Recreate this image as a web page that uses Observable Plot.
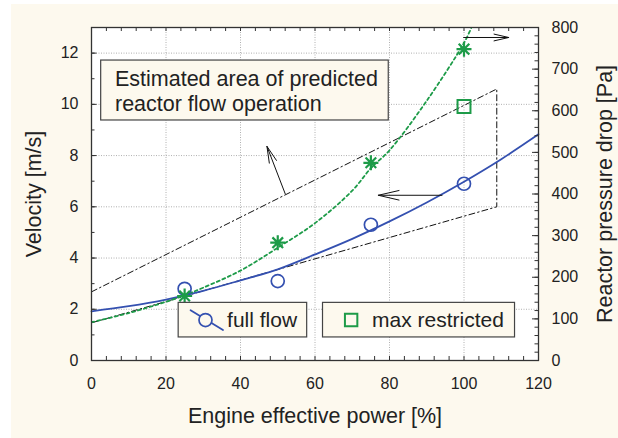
<!DOCTYPE html>
<html><head><meta charset="utf-8">
<script src="https://cdn.jsdelivr.net/npm/d3@7"></script>
<script src="https://cdn.jsdelivr.net/npm/@observablehq/plot@0.6"></script>
<style>
body{margin:0;background:#fff;}
#wrap{position:relative;width:618px;height:438px;}
#bg{position:absolute;left:11px;top:4px;width:607px;height:434px;background:#fdf9ee;}
#chart{position:absolute;left:0;top:0;}
</style></head><body><div id="wrap"><div id="bg"></div><div id="chart"></div></div>
<script>
// ---- data ----
const powerLevels = [25, 50, 75, 100];
const velocityFullFlow = [2.8, 3.1, 5.3, 6.9];          // m/s (circles)
const pressureFullFlowPa = [155, 283, 475, 748];        // Pa (stars)
const maxRestrictedPower = [100];
const maxRestrictedPa = [610];                          // Pa (square)
const velocityFitPower = [0, 10, 20, 30, 40, 50, 60, 70, 80, 90, 100, 110, 120];
const velocityFit = [1.92, 2.12, 2.38, 2.72, 3.13, 3.56, 4.14, 4.75, 5.43, 6.17, 6.98, 7.86, 8.83];
const pressureFitPower = [0, 10, 20, 25, 30, 40, 50, 60, 70, 75, 80, 90, 100, 102];
const pressureFitPa = [92, 114, 141, 157, 175, 216, 271, 330, 408, 462, 505, 624, 763, 800];
const boundaryPower = [0, 108.8, 108.8, 0];
const boundaryVelocity = [2.68, 10.6, 6.0, 1.47];
const arrowX1 = [52.0, 94.1, 99.9];
const arrowY1 = [6.51, 6.45, 12.61];
const arrowX2 = [47.1, 77.0, 112.0];
const arrowY2 = [8.36, 6.45, 12.61];
const noteLines = ["Estimated area of predicted", "reactor flow operation"];
const noteLineX = [6.3, 6.3];
const noteLineY = [10.98, 10.01];
const noteBoxX = [2.6, 79.8];
const noteBoxY = [9.37, 11.71];
const legendLabels = ["full flow", "max restricted"];
const legendBoxX1 = [23.4, 62.15];
const legendBoxX2 = [57.9, 113.7];
const legendBoxY = [0.9, 2.25];
const legendSymbolX = [30.6, 69.7];
const legendTextX = [36.4, 75.3];
const legendY = 1.58;
const legendLineX = [26.6, 35.3];
const legendLineY = [1.96, 1.19];
const xTickLabels = [0, 20, 40, 60, 80, 100, 120];
const yTickLabels = [0, 2, 4, 6, 8, 10, 12];
const paTickLabels = [0, 100, 200, 300, 400, 500, 600, 700, 800];
const xGrid = [20, 40, 60, 80, 100];
const yGrid = [2, 4, 6, 8, 10, 12];
const xTitle = "Engine effective power [%]";
const yTitle = "Velocity [m/s]";
const y2Title = "Reactor pressure drop [Pa]";

// ---- setup ----
const W = 618, H = 438, mL = 91, mR = 80, mT = 27, mB = 78;
const plotW = W - mL - mR, plotH = H - mT - mB;
const paMax = 800, vMax = 13;
const toV = p => p * vMax / paMax;
const BLUE = "#3450b0", GREEN = "#1d9b48", CREAM = "#fdf9ee", INK = "#222";
const FONT = "'Liberation Sans', Arial, Helvetica, sans-serif";

const fullFlow = powerLevels.map((x, i) => ({x, v: velocityFullFlow[i], p: pressureFullFlowPa[i]}));
const maxR = maxRestrictedPower.map((x, i) => ({x, p: maxRestrictedPa[i]}));
const velFit = velocityFitPower.map((x, i) => ({x, v: velocityFit[i]}));
const presFit = pressureFitPower.map((x, i) => ({x, p: pressureFitPa[i]}));
const boundary = boundaryPower.map((x, i) => ({x, v: boundaryVelocity[i]}));
const arrows = arrowX1.map((x1, i) => ({x1, y1: arrowY1[i], x2: arrowX2[i], y2: arrowY2[i]}));
const notes = noteLines.map((t, i) => ({t, x: noteLineX[i], y: noteLineY[i]}));
const legBoxes = legendBoxX1.map((x1, i) => ({x1, x2: legendBoxX2[i], y1: legendBoxY[0], y2: legendBoxY[1]}));
const legTexts = legendLabels.map((t, i) => ({t, x: legendTextX[i], y: legendY}));

const xMinor = d3.range(0, 121, 4);
const yMinor = d3.range(0, 14, 1);
const paMinor = d3.range(0, 801, 20);

const star8 = {
  draw(ctx, size) {
    const r = Math.sqrt(size / Math.PI);
    for (let k = 0; k < 4; k++) {
      const a = k * Math.PI / 4;
      ctx.moveTo(r * Math.cos(a), r * Math.sin(a));
      ctx.lineTo(-r * Math.cos(a), -r * Math.sin(a));
    }
  }
};

const chart = Plot.plot({
  width: W, height: H,
  marginLeft: mL, marginRight: mR, marginTop: mT, marginBottom: mB,
  style: {background: "transparent", fontFamily: FONT, color: INK, fontSize: "16px"},
  x: {domain: [0, 120], label: null},
  y: {domain: [0, vMax], label: null},
  marks: [
    Plot.frame({fill: "white", stroke: null}),
    Plot.ruleX(xGrid, {x: d => d, stroke: "#b0b0b0", strokeDasharray: "1,1.5"}),
    Plot.ruleY(yGrid, {y: d => d, stroke: "#b0b0b0", strokeDasharray: "1,1.5"}),
    Plot.line(boundary, {x: "x", y: "v", stroke: "#111", strokeWidth: 1, strokeDasharray: "6,3,1.5,3"}),
    Plot.line(velFit, {x: "x", y: "v", stroke: BLUE, strokeWidth: 1.8, curve: "catmull-rom"}),
    Plot.line(presFit, {x: "x", y: d => toV(d.p), stroke: GREEN, strokeWidth: 1.8, strokeDasharray: "3,3", curve: "catmull-rom", clip: true}),
    Plot.dot(fullFlow, {x: "x", y: "v", r: 6.5, stroke: BLUE, strokeWidth: 1.7, fill: "none"}),
    Plot.dot(fullFlow, {x: "x", y: d => toV(d.p), r: 7.5, symbol: star8, stroke: GREEN, strokeWidth: 2.2}),
    Plot.dot(maxR, {x: "x", y: d => toV(d.p), r: 7.3, symbol: "square", stroke: GREEN, strokeWidth: 2, fill: "none"}),
    Plot.arrow(arrows, {x1: "x1", y1: "y1", x2: "x2", y2: "y2", stroke: "#111", strokeWidth: 1, headAngle: 26, headLength: 36}),
    Plot.rect([0], {x1: () => noteBoxX[0], x2: () => noteBoxX[1], y1: () => noteBoxY[0], y2: () => noteBoxY[1], fill: CREAM, stroke: "#444", strokeWidth: 1.2}),
    Plot.text(notes, {x: "x", y: "y", text: "t", textAnchor: "start", lineAnchor: "middle", fontSize: 21.5, fill: INK}),
    Plot.rect(legBoxes, {x1: "x1", x2: "x2", y1: "y1", y2: "y2", fill: CREAM, stroke: "#444", strokeWidth: 1.2}),
    Plot.line(legendLineX.map((x, i) => ({x, y: legendLineY[i]})), {x: "x", y: "y", stroke: BLUE, strokeWidth: 1.8}),
    Plot.dot([legendSymbolX[0]], {x: d => d, y: () => legendY, r: 6.5, stroke: BLUE, strokeWidth: 1.7, fill: CREAM}),
    Plot.dot([legendSymbolX[1]], {x: d => d, y: () => legendY, r: 7, symbol: "square", stroke: GREEN, strokeWidth: 2, fill: "none"}),
    Plot.text(legTexts, {x: "x", y: "y", text: "t", textAnchor: "start", lineAnchor: "middle", fontSize: 21, fill: INK}),
    // inward tick marks
    Plot.tickY(yMinor, {y: d => d, insetRight: plotW - 3.5, stroke: "#333"}),
    Plot.tickY(yTickLabels, {y: d => d, insetRight: plotW - 5.5, stroke: "#333"}),
    Plot.tickY(paMinor.map(toV), {y: d => d, insetLeft: plotW - 3.5, stroke: "#333"}),
    Plot.tickY(paTickLabels.map(toV), {y: d => d, insetLeft: plotW - 6, stroke: "#333"}),
    Plot.tickX(xMinor, {x: d => d, insetTop: plotH - 4, stroke: "#333"}),
    Plot.tickX(xMinor, {x: d => d, insetBottom: plotH - 4, stroke: "#333"}),
    Plot.frame({stroke: "#333", strokeWidth: 1.3}),
    Plot.axisX(xTickLabels, {tickSize: 0, tickPadding: 17, fontSize: 16, fill: INK}),
    Plot.axisY(yTickLabels, {tickSize: 0, tickPadding: 13, fontSize: 16, fill: INK}),
    Plot.axisY(paTickLabels.map(toV), {anchor: "right", tickSize: 0, tickPadding: 13, fontSize: 16, fill: INK, tickFormat: d => Math.round(d * paMax / vMax)}),
    Plot.text([xTitle], {text: d => d, frameAnchor: "bottom", dy: 56, textAnchor: "middle", lineAnchor: "middle", fontSize: 21.5, fill: INK}),
    Plot.text([yTitle], {text: d => d, frameAnchor: "left", dx: -57, rotate: -90, textAnchor: "middle", lineAnchor: "middle", fontSize: 21.5, fill: INK}),
    Plot.text([y2Title], {text: d => d, frameAnchor: "right", dx: 67, rotate: -90, textAnchor: "middle", lineAnchor: "middle", fontSize: 21.5, fill: INK})
  ]
});
document.getElementById("chart").appendChild(chart);
</script></body></html>
